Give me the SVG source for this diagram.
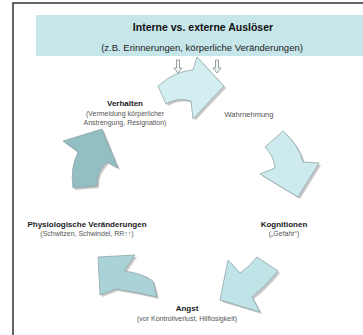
<svg xmlns="http://www.w3.org/2000/svg" width="363" height="335" viewBox="0 0 363 335">
<defs>
<style>
.t{font-family:"Liberation Sans",Arial,sans-serif;text-anchor:middle}
.b{font-weight:bold;font-size:8px;fill:#1a1a1a}
.s{font-size:7px;fill:#555}
.arr{stroke:#8fa6a8;stroke-width:0.8;stroke-linejoin:round}
.sh{fill:#9a9a9a;opacity:0.55}
.da{fill:#eef6f7;stroke:#777;stroke-width:0.7}
</style>
<path id="a1" d="M158,86 Q175,71 193,70 L197,57 L224,86 L193,119 L191,101 Q178,97 166,104 Z"/>
<path id="a2" d="M283,131 Q299,145 303,162 L319,163 L298,197 L260,174 L275,168 Q274,156 265,147 Z"/>
<path id="a3" d="M257,257 L278,271 Q266,286 252,297 L260,312 L220,300 L228,260 L240,273 Q250,266 257,257 Z"/>
<path id="a4" d="M98,257 L135,255 L124,271 Q142,273 153,281 L157,297 Q136,292 116,289 L100,295 Z"/>
<path id="a5" d="M102,129 L118,168 L107,162 Q96,172 97,186 L73,188 Q70,168 78,152 L63,141 Z"/>
</defs>
<rect width="363" height="335" fill="#ffffff"/>
<path d="M13,335 L13,3 L363,3" fill="none" stroke="#333" stroke-width="1.5"/>
<g id="header">
<rect x="36" y="15" width="327" height="41" fill="#c6e6ea"/>
<text class="t" x="203" y="31" style="font-weight:bold;font-size:10.5px;fill:#111">Interne vs. externe Auslöser</text>
<text class="t" x="202" y="51" style="font-size:9.5px;fill:#222">(z.B. Erinnerungen, körperliche Veränderungen)</text>
</g>
<g id="connectors">
<path class="da" d="M176.5,60 L179.5,60 L179.5,68 L182,68 L178,73 L174,68 L176.5,68 Z"/>
<path class="da" d="M215.5,60 L218.5,60 L218.5,68 L221,68 L217,73 L213,68 L215.5,68 Z"/>
<use href="#a1" class="sh" transform="translate(2,2)"/>
<use href="#a1" class="arr" fill="#d3eef0"/>
<use href="#a2" class="sh" transform="translate(2,2)"/>
<use href="#a2" class="arr" fill="#cdebee"/>
<use href="#a3" class="sh" transform="translate(2,2)"/>
<use href="#a3" class="arr" fill="#bfe3e7"/>
<use href="#a4" class="sh" transform="translate(2,2)"/>
<use href="#a4" class="arr" fill="#a9d3d7"/>
<use href="#a5" class="sh" transform="translate(2,2)"/>
<use href="#a5" class="arr" fill="#93bfc2"/>
</g>
<g id="verhalten">
<text class="t b" x="125" y="106">Verhalten</text>
<text class="t s" x="125" y="116">(Vermeidung körperlicher</text>
<text class="t s" x="125" y="125">Anstrengung, Resignation)</text>
</g>
<g id="wahrnehmung">
<text class="t" x="249" y="117" style="font-size:7.5px;fill:#555">Wahrnehmung</text>
</g>
<g id="kognitionen">
<text class="t b" x="284" y="227">Kognitionen</text>
<text class="t s" x="284" y="236">(„Gefahr“)</text>
</g>
<g id="angst">
<text class="t b" x="187" y="311">Angst</text>
<text class="t s" x="187" y="321">(vor Kontrollverlust, Hilflosigkeit)</text>
</g>
<g id="physiologie">
<text class="t b" x="87" y="227">Physiologische Veränderungen</text>
<text class="t s" x="87" y="236">(Schwitzen, Schwindel, RR↑↑)</text>
</g>
</svg>
